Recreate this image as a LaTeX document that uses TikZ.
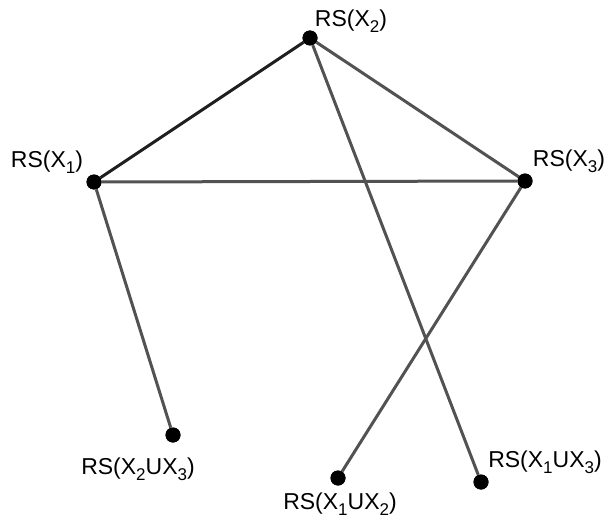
\documentclass[tikz,border=0pt]{standalone}
\usepackage{fontspec}
\setmainfont{Liberation Sans}
\newcommand{\sbx}[1]{\raisebox{-0.5ex}{\fontsize{17}{17}\selectfont #1}}
\begin{document}
\begin{tikzpicture}[x=1pt,y=-1pt,
  vtx/.style={circle,fill=black,inner sep=0pt,minimum size=15pt},
  lbl/.style={font=\fontsize{23}{23}\selectfont,inner sep=0pt},
  edge/.style={line width=3pt,draw=black!68},
  darkedge/.style={line width=3pt,draw=black!88}]
\useasboundingbox (0,0) rectangle (608,519);
% vertices
\node[vtx] (x2) at (310,38) {};
\node[vtx] (x1) at (94,182) {};
\node[vtx] (x3) at (525,181) {};
\node[vtx] (x23) at (173,435) {};
\node[vtx] (x12) at (338,478) {};
\node[vtx] (x13) at (481,482) {};
% labels
\node[lbl] (l2) at (351,21) {RS(X\sbx{2})};
\node[lbl] (l1) at (47,162) {RS(X\sbx{1})};
\node[lbl] (l3) at (569,161) {RS(X\sbx{3})};
\node[lbl] (l23) at (138,469) {RS(X\sbx{2}UX\sbx{3})};
\node[lbl] (l12) at (340,504) {RS(X\sbx{1}UX\sbx{2})};
\node[lbl] (l13) at (545,462) {RS(X\sbx{1}UX\sbx{3})};
% edges
\draw[darkedge] (x1) -- (x2);
\draw[edge] (x2) -- (x3);
\draw[edge] (x1) -- (x3);
\draw[edge] (x1) -- (x23);
\draw[edge] (x2) -- (x13);
\draw[edge] (x3) -- (x12);
% vertices drawn again on top of the edges
\foreach \v in {x1,x2,x3,x23,x12,x13}
  \fill (\v) circle (7.5pt);
\end{tikzpicture}
\end{document}
